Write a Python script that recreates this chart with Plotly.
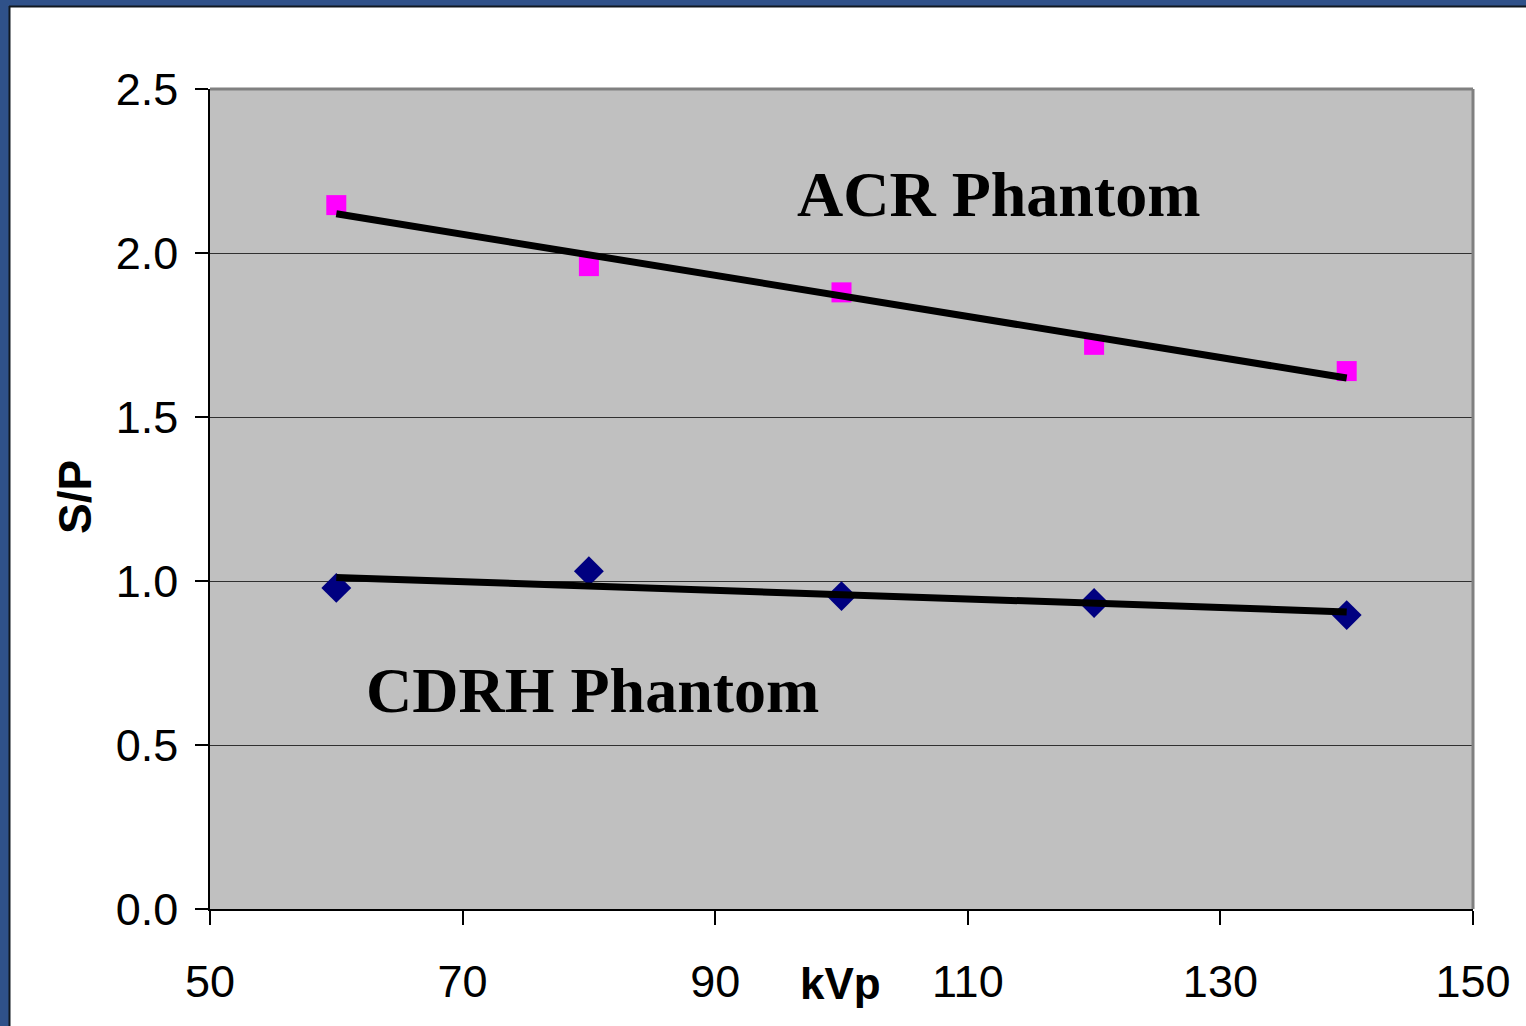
import numpy as np
import plotly.graph_objects as go

# ---- data ----
kvp = [60, 80, 100, 120, 140]
acr_sp = [2.146, 1.96, 1.88, 1.72, 1.64]
cdrh_sp = [0.979, 1.030, 0.954, 0.933, 0.896]
x_ticks = [50, 70, 90, 110, 130, 150]
y_ticks = [0.0, 0.5, 1.0, 1.5, 2.0, 2.5]
y_tick_labels = ["0.0", "0.5", "1.0", "1.5", "2.0", "2.5"]

W, H = 1526, 1026
L, R, T, B = 210, 53, 89, 117

def trend(x, y):
    a, b = np.polyfit(x, y, 1)
    xs = np.array([x[0], x[-1]], dtype=float)
    return xs, a * xs + b

fig = go.Figure()

tx, ty = trend(kvp, acr_sp)
fig.add_trace(go.Scatter(x=kvp, y=acr_sp, mode="markers",
                         marker=dict(symbol="square", size=20, color="#FF00FF"),
                         showlegend=False))
fig.add_trace(go.Scatter(x=tx, y=ty, mode="lines",
                         line=dict(color="black", width=7), showlegend=False))

tx2, ty2 = trend(kvp, cdrh_sp)
fig.add_trace(go.Scatter(x=kvp, y=cdrh_sp, mode="markers",
                         marker=dict(symbol="diamond", size=23, color="#000080"),
                         showlegend=False))
fig.add_trace(go.Scatter(x=tx2, y=ty2, mode="lines",
                         line=dict(color="black", width=7), showlegend=False))

pw, ph = W - L - R, H - T - B

def px2paper_x(p):
    return (p - L) / pw

def px2paper_y(p):
    return (H - B - p) / ph

shapes = [
    # blue slide border, top and left
    dict(type="rect", xref="paper", yref="paper", layer="above",
         x0=px2paper_x(0), x1=px2paper_x(W), y0=px2paper_y(7), y1=px2paper_y(0),
         fillcolor="#2f5189", line=dict(width=0)),
    dict(type="rect", xref="paper", yref="paper", layer="above",
         x0=px2paper_x(0), x1=px2paper_x(9), y0=px2paper_y(H), y1=px2paper_y(0),
         fillcolor="#2f5189", line=dict(width=0)),
    dict(type="line", xref="paper", yref="paper", layer="above",
         x0=px2paper_x(9), x1=px2paper_x(W), y0=px2paper_y(6.5), y1=px2paper_y(6.5),
         line=dict(color="#101820", width=2)),
    dict(type="line", xref="paper", yref="paper", layer="above",
         x0=px2paper_x(9.5), x1=px2paper_x(9.5), y0=px2paper_y(H), y1=px2paper_y(6),
         line=dict(color="#101820", width=2)),
    # gray plot border top and right
    dict(type="line", xref="paper", yref="paper", layer="above",
         x0=0, x1=1, y0=1, y1=1, line=dict(color="#808080", width=3)),
    dict(type="line", xref="paper", yref="paper", layer="above",
         x0=1, x1=1, y0=0, y1=1, line=dict(color="#808080", width=3)),
]

annotations = [
    dict(x=112.5, y=2.177, xref="x", yref="y", text="<b>ACR Phantom</b>",
         showarrow=False, xanchor="center", yanchor="middle",
         font=dict(family="Liberation Serif, Times New Roman, serif", size=64, color="black")),
    dict(x=80.25, y=0.665, xref="x", yref="y", text="<b>CDRH Phantom</b>",
         showarrow=False, xanchor="center", yanchor="middle",
         font=dict(family="Liberation Serif, Times New Roman, serif", size=64, color="black")),
    dict(x=px2paper_x(840), y=px2paper_y(983), xref="paper", yref="paper", text="<b>kVp</b>",
         showarrow=False, xanchor="center", yanchor="middle",
         font=dict(family="Liberation Sans, Arial", size=44, color="black")),
    dict(x=px2paper_x(75), y=px2paper_y(497), xref="paper", yref="paper", text="<b>S/P</b>",
         showarrow=False, xanchor="center", yanchor="middle", textangle=-90,
         font=dict(family="Liberation Sans, Arial", size=46, color="black")),
]

tick_font = dict(family="Liberation Sans, Arial", size=45, color="black")

fig.update_layout(
    width=W, height=H,
    margin=dict(l=L, r=R, t=T, b=B, pad=0),
    paper_bgcolor="white",
    plot_bgcolor="#C0C0C0",
    shapes=shapes,
    annotations=annotations,
    xaxis=dict(range=[50, 150], tickvals=x_ticks, ticktext=[str(v) for v in x_ticks],
               showgrid=False, zeroline=False, showline=True, linecolor="black", linewidth=1.5,
               ticks="outside", ticklen=14, tickwidth=1.5, tickcolor="black",
               ticklabelstandoff=18, tickfont=tick_font),
    yaxis=dict(range=[0, 2.5], tickvals=y_ticks, ticktext=y_tick_labels,
               showgrid=True, gridcolor="#303030", gridwidth=1, zeroline=False,
               showline=True, linecolor="black", linewidth=1.5,
               ticks="outside", ticklen=13, tickwidth=1.5, tickcolor="black",
               ticklabelstandoff=8, tickfont=tick_font),
)

fig.write_html("out.html", config={"displayModeBar": False},
               post_script="document.body.style.margin='0';document.body.style.overflow='hidden';")
